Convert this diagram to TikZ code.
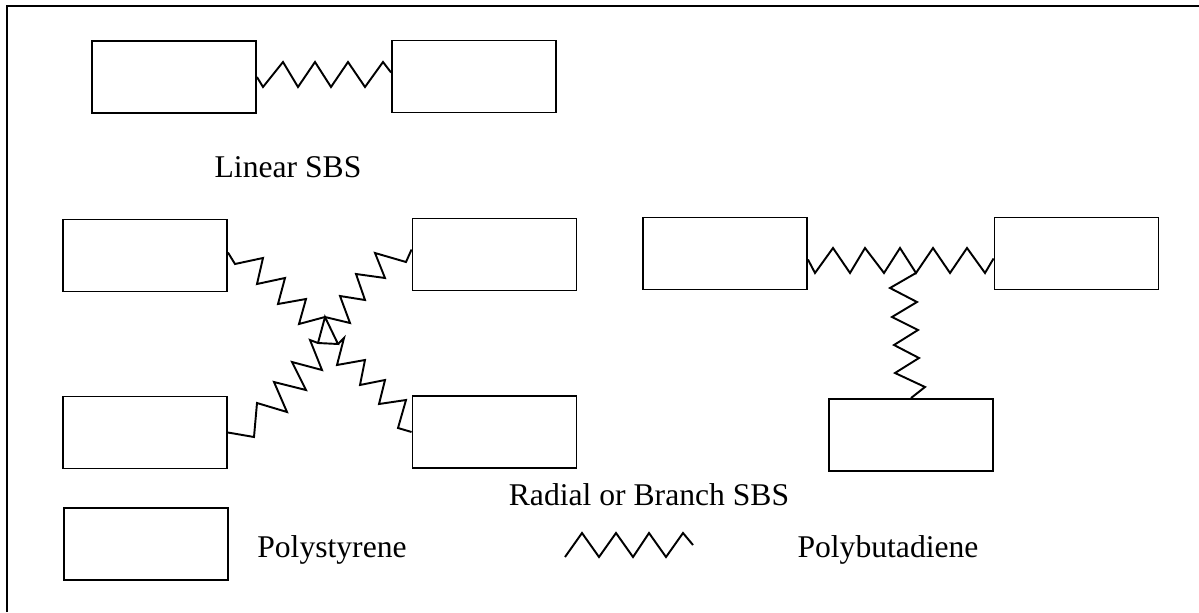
\documentclass[tikz,border=0pt]{standalone}
\usepackage{fontspec}
\setmainfont{Liberation Serif}
\begin{document}
\begin{tikzpicture}[x=0.02cm,y=-0.02cm,line width=1.1pt,
  blk/.style={draw,minimum width=3.28cm,minimum height=1.44cm,inner sep=0pt},
  lbl/.style={font=\fontsize{18}{22}\selectfont,inner sep=0pt}]
\useasboundingbox (0,0) rectangle (1199,612);
\draw[line width=0.8pt] (7,612) -- (7,6) -- (1199,6);

\node[blk] (ls) at (174,77) {};
\node[blk] (rs) at (474,76.5) {};
\draw (ls.east) -- (263,87) -- (283,62) -- (298,87) -- (315,62) -- (331,87) -- (348,62) -- (365,87) -- (383,62) -- ([yshift=0.08cm]rs.west);
\node[lbl] (lin) at (288,167) {Linear SBS};

\node[blk] (tl) at (145,255.5) {};
\node[blk] (tr) at (494.5,254.5) {};
\node[blk] (bl) at (145,432.5) {};
\node[blk] (br) at (494.5,432) {};
\coordinate (jx) at (325,317);
\coordinate (jl) at (318,343);
\coordinate (jr) at (338,344);
\draw ([yshift=0.06cm]tl.east) -- (235,264) -- (263,258) -- (257,284) -- (285,278) -- (278,304) -- (306,299) -- (299,324) -- (jx);
\draw ([yshift=0.1cm]tr.west) -- (406,262) -- (375,253) -- (385,278) -- (356,274) -- (365,300) -- (340,296) -- (350,323) -- (jx);
\draw (bl.east) -- (254,437) -- (257,403) -- (287,412) -- (274,382) -- (306,390) -- (292,362) -- (322,370) -- (310,340) -- (jl);
\draw (br.west) -- (398,428) -- (406,400) -- (379,404) -- (385,380) -- (360,385) -- (365,360) -- (337,365) -- (344,338) -- (jr);
\draw (jx) -- (jl) -- (jr) -- cycle;

\node[blk] (lt) at (725,253.5) {};
\node[blk] (rt) at (1076.5,253.5) {};
\node[blk] (bt) at (911,435) {};
\coordinate (jt) at (916,273);
\draw ([yshift=-0.12cm]lt.east) -- (815,273) -- (833,248) -- (850,273) -- (865,248) -- (884,273) -- (900,248) -- (jt) -- (933,248) -- (950,273) -- (967,248) -- (985,273) -- ([yshift=-0.1cm]rt.west);
\draw (jt) -- (890,288) -- (917,302) -- (892,317) -- (918,330) -- (894,345) -- (919,358) -- (895,373) -- (925,387) -- (bt.north);
\node[lbl] (rad) at (649,495) {Radial or Branch SBS};

\node[blk] (key) at (146,544) {};
\node[lbl] (ps) at (332,550) {Polystyrene};
\draw (565,557) -- (582,533) -- (599,557) -- (616,533) -- (633,557) -- (649,533) -- (666,557) -- (683,533) -- (693,545);
\node[lbl] (pb) at (888,550) {Polybutadiene};
\end{tikzpicture}
\end{document}
